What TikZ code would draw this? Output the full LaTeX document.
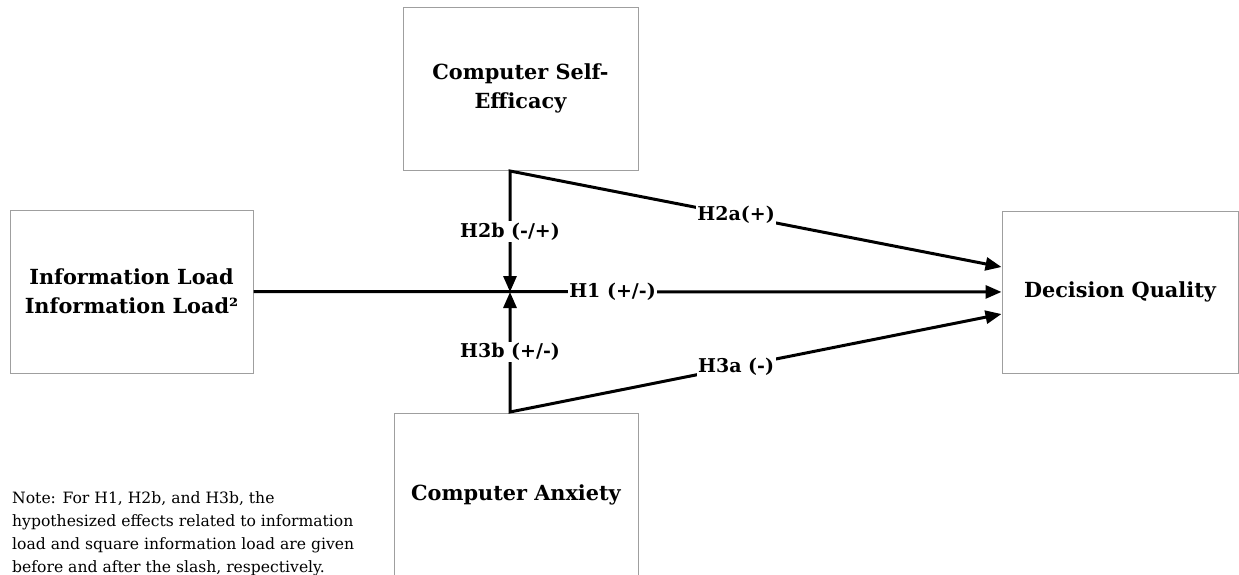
\documentclass[tikz,border=0pt]{standalone}
\usepackage{fontspec}
\setmainfont{DejaVu Serif}
\usetikzlibrary{arrows.meta}

\tikzstyle{bigbox}=[draw=gray!75, line width=1pt, inner sep=0pt, align=center,
  font=\bfseries\fontsize{20.8}{29}\selectfont]
\tikzstyle{hyp}=[fill=white, inner sep=1.5pt, font=\bfseries\fontsize{19}{22}\selectfont]
\tikzstyle{link}=[line width=3pt, -{Triangle[length=16pt,width=13pt]}]
\tikzstyle{twolink}=[line width=3pt, {Triangle[length=16pt,width=13pt]}-{Triangle[length=16pt,width=13pt]}]
\tikzstyle{note}=[align=left, inner sep=0pt, anchor=north west, font=\fontsize{15.6}{23}\selectfont]

\begin{document}
\begin{tikzpicture}[x=1pt, y=-1pt]
  \useasboundingbox (0,0) rectangle (1239,574);
  % constructs
  \node[bigbox, minimum width=243pt, minimum height=163pt] (load) at (131.5,291.5) {Information Load\\Information Load²};
  \node[bigbox, minimum width=235pt, minimum height=163pt] (cse) at (520.5,88.5) {Computer Self-\\Efficacy};
  \node[bigbox, minimum width=244pt, minimum height=164pt] (anx) at (516,495) {Computer Anxiety};
  \node[bigbox, minimum width=236pt, minimum height=162pt] (dq) at (1120,292) {Decision Quality};
  % corners of the moderator paths
  \coordinate (top) at (510,171);
  \coordinate (bot) at (510,412);
  \coordinate (jn) at (510,292);
  \coordinate (dqa) at ([yshift=25pt]dq.west);
  \coordinate (dqb) at ([yshift=-22pt]dq.west);
  % hypotheses
  \draw[link] (load) -- node[hyp, pos=0.48] {H1 (+/-)} (dq);
  \draw[twolink] (dqa) -- node[hyp, pos=0.54] {H2a(+)} (top) -- node[hyp] {H2b (-/+)} (jn);
  \draw[twolink] (dqb) -- node[hyp, pos=0.54] {H3a (-)} (bot) -- node[hyp] {H3b (+/-)} (jn);
  \node[note] (nt) at (12,491) {Note: For H1, H2b, and H3b, the\\hypothesized effects related to information\\load and square information load are given\\before and after the slash, respectively.};
\end{tikzpicture}
\end{document}
